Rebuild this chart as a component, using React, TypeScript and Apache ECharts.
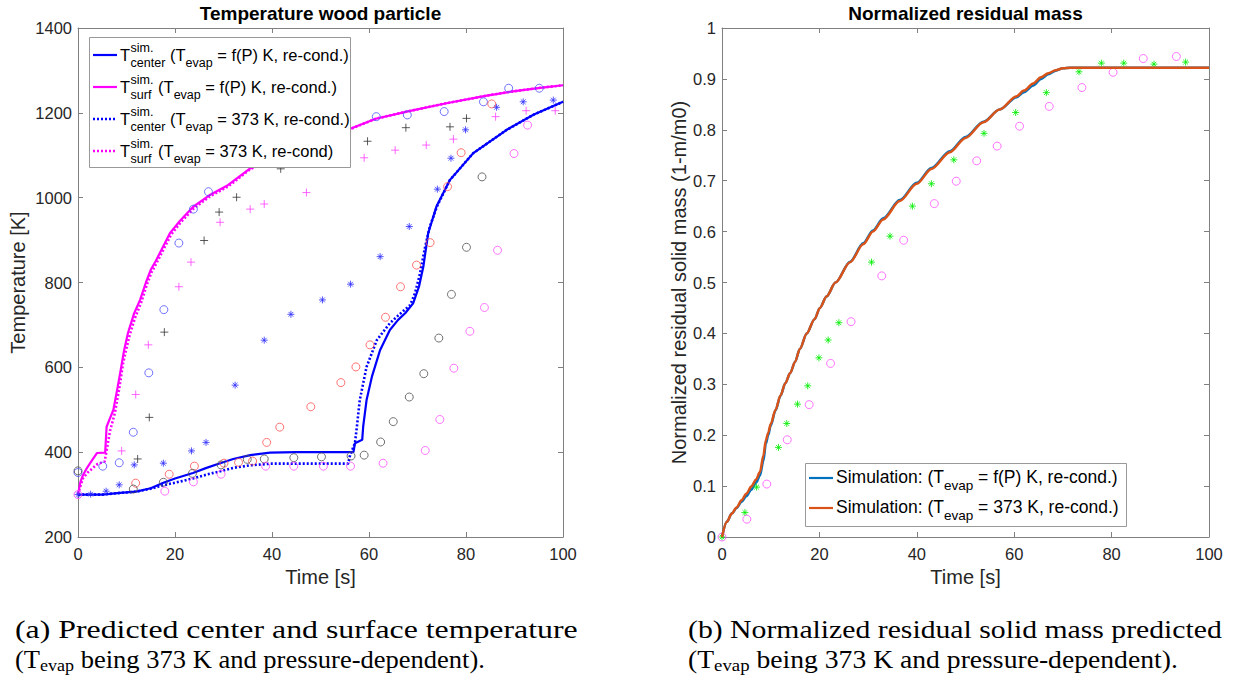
import React, { useEffect, useRef } from "react";
import * as echarts from "echarts";

// ---------- data ----------
const timeTicks = [0, 20, 40, 60, 80, 100];

// Left: simulated temperatures [t (s), T (K)]
const surfFP: number[][] = [
  [0, 300], [0.5, 330], [1, 345], [1.8, 362], [2.5, 374], [3.2, 386], [3.9, 398], [5.6, 399],
  [5.9, 460], [7.3, 500], [8.2, 555], [8.7, 587], [9.5, 640], [10.3, 681], [11.5, 725], [12.8, 759],
  [14, 800], [15, 830], [16, 850], [16.9, 870], [19, 917], [21, 945], [23.7, 978], [27, 1005],
  [30.7, 1028], [35.5, 1069], [40, 1092], [45, 1115], [50, 1137], [56, 1162], [61.4, 1186],
  [67.8, 1203], [75.7, 1222], [84, 1240], [89.3, 1250], [95.3, 1259], [100, 1265],
];
const surfFix: number[][] = [
  [0, 300], [0.5, 320], [1, 338], [2, 352], [3, 362], [4, 372], [5.5, 378], [6, 410],
  [6.6, 450], [7.6, 492], [8.5, 550], [9.3, 610], [10.5, 670], [11.7, 715], [13, 752],
  [14.2, 795], [15.2, 825], [16.2, 846], [17.1, 866], [19.2, 913], [21.2, 942], [23.9, 975],
  [27.2, 1003], [30.9, 1026], [35.5, 1067], [40, 1091], [45, 1114], [50, 1136], [56, 1161],
  [61.4, 1186], [67.8, 1203], [75.7, 1222], [84, 1240], [89.3, 1250], [95.3, 1259], [100, 1265],
];
const centerFP: number[][] = [
  [0, 300], [5, 300], [8.7, 304], [12, 307], [15, 315], [17.6, 328], [20, 338], [23.7, 351],
  [26.5, 363], [29.3, 374], [32, 384], [35.5, 393], [39.6, 399], [45, 400], [56.8, 400],
  [57.1, 421], [58.6, 429], [58.8, 460], [59.5, 523], [60.6, 578], [62.3, 641], [64.3, 688],
  [66, 712], [67.5, 728], [69.1, 751], [70.3, 790], [71.2, 837], [72.2, 916], [73.9, 979],
  [76.7, 1042], [81.5, 1105], [88.4, 1160], [94, 1196], [100, 1226],
];
const centerFix: number[][] = [
  [0, 300], [5, 300], [8.7, 304], [12, 307], [15, 314], [17.6, 322], [20, 328], [23.7, 338],
  [26.5, 347], [29.3, 355], [32, 363], [35.5, 369], [40, 373], [55.7, 373], [56.1, 393],
  [57.1, 421], [57.5, 460], [58.1, 523], [59.5, 601], [61.6, 664], [64.3, 704], [66, 722],
  [68.5, 747], [69.5, 775], [70.5, 820], [71.5, 880], [72.5, 930], [74, 979], [76.7, 1042],
  [81.5, 1105], [88.4, 1160], [94, 1196], [100, 1226],
];

// Left: experimental markers
const blueCircle: number[][] = [
  [0, 352], [5.1, 367], [8.5, 375], [11.4, 447], [14.6, 587], [17.7, 736], [20.8, 893],
  [23.8, 973], [26.9, 1014], [61.5, 1191], [67.9, 1195], [75.5, 1203], [83.6, 1226],
  [88.8, 1258], [95.1, 1258],
];
const blackPlus: number[][] = [
  [12.3, 384], [14.7, 482], [17.8, 683], [26, 899], [29.1, 966], [32.7, 1001], [41.8, 1068],
  [59.7, 1133], [67.6, 1165], [76.7, 1167], [80.1, 1187],
];
const magentaPlus: number[][] = [
  [9, 403], [11.9, 536], [14.5, 653], [20.8, 790], [23.3, 848], [29.3, 942], [35.5, 973],
  [38.4, 985], [47.1, 1012], [59, 1094], [65.4, 1112], [71.8, 1124], [77.4, 1138],
  [86.1, 1191], [92.4, 1205], [98.4, 1205],
];
const blueStar: number[][] = [
  [0, 300], [2.6, 301], [5.8, 308], [8.5, 323], [11.6, 370], [17.6, 374], [23.4, 403],
  [26.4, 423], [32.4, 558], [38.4, 664], [43.9, 725], [50.4, 759], [56.2, 796], [62.3, 861],
  [68.3, 932], [74.1, 1020], [76.9, 1093], [79.9, 1160], [86.3, 1213], [91.8, 1226], [98, 1230],
];
const redCircle: number[][] = [
  [11.9, 327], [18.8, 348], [24, 367], [30.1, 374], [33.1, 376], [36, 379], [38.9, 423],
  [41.6, 459], [48, 507], [54.2, 564], [57.3, 601], [60.2, 653], [63.4, 718], [66.5, 790],
  [69.8, 841], [72.6, 894], [76.2, 1026], [79, 1106], [85.3, 1221],
];
const blackCircle: number[][] = [
  [0, 356], [11.4, 313], [17.6, 329], [23.6, 350], [29.5, 370], [34.9, 383], [38.4, 384],
  [44.5, 387], [50.2, 389], [56.3, 391], [59, 393], [62.4, 424], [65, 472], [68.3, 530],
  [71.3, 585], [74.4, 669], [77, 772], [80.1, 883], [83.3, 1049],
];
const magentaCircle: number[][] = [
  [0, 300], [17.9, 308], [23.8, 330], [29.5, 348], [38.7, 367], [44.5, 367], [50.6, 367],
  [56.2, 367], [62.9, 374], [71.6, 404], [74.6, 477], [77.5, 598], [80.8, 685], [83.8, 741],
  [86.5, 876], [89.9, 1104], [92.7, 1171],
];

// Right: normalized residual mass
const massFix: number[][] = [
  [0, 0], [1, 0.03], [2, 0.046], [3, 0.058], [4, 0.072], [5, 0.085], [6, 0.099], [7, 0.113],
  [7.8, 0.128], [8.5, 0.16], [9, 0.19], [9.5, 0.205], [10, 0.222], [11, 0.25], [12, 0.278],
  [13, 0.302], [14, 0.322], [15, 0.344], [16, 0.37], [17.4, 0.4], [19, 0.428], [20.1, 0.45],
  [21.5, 0.473], [23.3, 0.5], [26.3, 0.54], [29, 0.575], [31, 0.6], [33.1, 0.624],
  [36.5, 0.66], [40, 0.694], [43, 0.723], [46.8, 0.756], [50, 0.784], [53.7, 0.815],
  [57, 0.84], [60.5, 0.866], [62, 0.877], [63.9, 0.891], [65.5, 0.903], [67, 0.911],
  [68.5, 0.917], [70, 0.921], [71.5, 0.922], [100, 0.922],
];
const massFP: number[][] = [
  [0, 0], [1, 0.03], [2, 0.046], [3, 0.057], [4, 0.069], [5, 0.08], [6, 0.093], [7, 0.107],
  [7.8, 0.121], [8.5, 0.15], [9, 0.183], [9.5, 0.2], [10, 0.219], [11, 0.249], [12, 0.277],
  [13, 0.302], [14, 0.322], [15, 0.344], [16, 0.37], [17.4, 0.4], [19, 0.428], [20.1, 0.45],
  [21.5, 0.473], [23.3, 0.5], [26.3, 0.541], [29, 0.577], [31, 0.602], [33.1, 0.626],
  [36.5, 0.662], [40, 0.696], [43, 0.725], [46.8, 0.758], [50, 0.786], [53.7, 0.816],
  [57, 0.84], [60.5, 0.864], [62, 0.874], [63.9, 0.887], [65.5, 0.9], [67, 0.909],
  [68.5, 0.916], [70, 0.921], [71.5, 0.922], [100, 0.922],
];
const massGreenStar: number[][] = [
  [0, 0], [4.7, 0.048], [7.1, 0.098], [11.6, 0.176], [13.3, 0.223], [15.5, 0.261], [17.6, 0.297],
  [19.9, 0.352], [21.8, 0.387], [24, 0.421], [30.7, 0.54], [34.5, 0.591], [39.1, 0.65],
  [43, 0.694], [47.6, 0.741], [53.8, 0.793], [60.3, 0.834], [66.6, 0.873], [73.3, 0.914],
  [77.9, 0.931], [82.5, 0.931], [88.7, 0.929], [95.2, 0.933],
];
const massMagentaCircle: number[][] = [
  [0, 0], [5.1, 0.035], [9.2, 0.104], [13.4, 0.191], [17.9, 0.26], [22.3, 0.341], [26.5, 0.423],
  [32.8, 0.513], [37.3, 0.583], [43.6, 0.655], [48.1, 0.699], [52.3, 0.739], [56.5, 0.768],
  [61.1, 0.807], [67.2, 0.846], [73.9, 0.883], [80.3, 0.913], [86.5, 0.94], [93.3, 0.944],
];

const leftTitle = "Temperature wood particle";
const rightTitle = "Normalized residual mass";
const leftYName = "Temperature [K]";
const rightYName = "Normalized residual solid mass (1-m/m0)";
const xName = "Time [s]";
const captionA = "(a) Predicted center and surface temperature";
const captionB = "(b) Normalized residual solid mass predicted";
const captionTail = " being 373 K and pressure-dependent).";

// ---------- styling ----------
const SANS = "Liberation Sans, Arial, sans-serif";
const SERIF = "Liberation Serif, Times New Roman, serif";
const AX = "#808080";
const TXT = "#262626";
const PLUS = "path://M0,5L10,5M5,0L5,10";
const STAR = "path://M0,5L10,5M5,0L5,10M1.6,1.6L8.4,8.4M1.6,8.4L8.4,1.6";

let measureCtx: CanvasRenderingContext2D | null = null;
function tw(t: string, size: number, fam: string, weight = "normal") {
  if (!measureCtx) measureCtx = document.createElement("canvas").getContext("2d");
  measureCtx!.font = `${weight} ${size}px ${fam}`;
  return measureCtx!.measureText(t).width;
}

function txt(t: string, x: number, y: number, size: number, fam: string, fill = "#000") {
  return {
    type: "text", x, y, z: 100, silent: true,
    style: { text: t, fontSize: size, fontFamily: fam, fill, align: "left", verticalAlign: "middle" },
  };
}

function legendEntryT(x: number, y: number, sub: string, rest: string) {
  const LF = 16.5, LS = 12.5;
  const out: any[] = [];
  out.push(txt("T", x, y, LF, SANS));
  const xs = x + tw("T", LF, SANS) + 0.5;
  out.push(txt("sim.", xs, y - 7.5, LS, SANS));
  out.push(txt(sub, xs, y + 7.5, LS, SANS));
  let x2 = xs + Math.max(tw("sim.", LS, SANS), tw(sub, LS, SANS));
  out.push(txt(" (T", x2, y, LF, SANS));
  x2 += tw(" (T", LF, SANS);
  out.push(txt("evap", x2, y + 7.5, LS, SANS));
  x2 += tw("evap", LS, SANS);
  out.push(txt(rest, x2, y, LF, SANS));
  return out;
}

function legendEntrySim(x: number, y: number, rest: string) {
  const LF = 17.5, LS = 13.5;
  const out: any[] = [];
  out.push(txt("Simulation: (T", x, y, LF, SANS));
  let x2 = x + tw("Simulation: (T", LF, SANS);
  out.push(txt("evap", x2, y + 8.5, LS, SANS));
  x2 += tw("evap", LS, SANS);
  out.push(txt(rest, x2, y, LF, SANS));
  return out;
}

function sampleLine(x1: number, x2: number, y: number, color: string, dotted: boolean) {
  return {
    type: "line", z: 100, silent: true,
    shape: { x1, y1: y, x2, y2: y },
    style: { stroke: color, lineWidth: dotted ? 2.5 : 2.2, lineDash: dotted ? [2, 2] : null },
  };
}

function captionLine(x: number, y: number, targetW: number, parts: { t: string; sub?: boolean }[]) {
  const F = 25, S = 17;
  const children: any[] = [];
  let cx = 0;
  for (const p of parts) {
    const size = p.sub ? S : F;
    children.push(txt(p.t, cx, p.sub ? 5 : 0, size, SERIF));
    cx += tw(p.t, size, SERIF);
  }
  return { type: "group", x, y, scaleX: targetW / cx, z: 100, children };
}

function axisBase(min: number, max: number, interval: number) {
  return {
    type: "value", min, max, interval,
    axisLine: { show: true, onZero: false, lineStyle: { color: AX, width: 1 } },
    axisTick: { show: true, inside: true, length: 5, lineStyle: { color: AX } },
    splitLine: { show: false },
  };
}

const labelStyle = { fontSize: 16.5, color: TXT, fontFamily: SANS };
const nameStyle = { fontSize: 20, color: TXT, fontFamily: SANS };

function lineSeries(data: number[][], color: string, dotted: boolean, xi: number, yi: number, width = 2.2, z = 2, smooth = false) {
  return {
    type: "line", data, xAxisIndex: xi, yAxisIndex: yi, showSymbol: false, symbol: "none",
    smooth: smooth ? 0.3 : false, smoothMonotone: "x", z, silent: true,
    lineStyle: { color, width: dotted ? 2.6 : width, type: dotted ? [2, 2] : "solid" },
  };
}

function scatterSeries(data: number[][], symbol: string, color: string, size: number, xi: number, yi: number) {
  return {
    type: "scatter", data, xAxisIndex: xi, yAxisIndex: yi, symbol, symbolSize: size, z: 3, silent: true,
    itemStyle: { color: "transparent", borderColor: color, borderWidth: 1 },
  };
}

export default function App() {
  const ref = useRef<HTMLDivElement>(null);
  useEffect(() => {
    document.body.style.margin = "0";
    const chart = echarts.init(ref.current!, null, { renderer: "svg" });

    const graphics: any[] = [];
    // Left legend
    graphics.push({
      type: "rect", z: 99, silent: true,
      shape: { x: 89.5, y: 37.5, width: 261, height: 130 },
      style: { fill: "#fff", stroke: "#999", lineWidth: 1 },
    });
    const ly = [55, 87, 119, 151];
    graphics.push(sampleLine(93, 117, ly[0], "#0000ff", false));
    graphics.push(sampleLine(93, 117, ly[1], "#ff00ff", false));
    graphics.push(sampleLine(93, 117, ly[2], "#0000ff", true));
    graphics.push(sampleLine(93, 117, ly[3], "#ff00ff", true));
    graphics.push(...legendEntryT(120, ly[0], "center", " = f(P) K, re-cond.)"));
    graphics.push(...legendEntryT(120, ly[1], "surf", " = f(P) K, re-cond.)"));
    graphics.push(...legendEntryT(120, ly[2], "center", " = 373 K, re-cond.)"));
    graphics.push(...legendEntryT(120, ly[3], "surf", " = 373 K, re-cond)"));

    // Right legend
    graphics.push({
      type: "rect", z: 99, silent: true,
      shape: { x: 805.5, y: 463.5, width: 321, height: 63 },
      style: { fill: "#fff", stroke: "#999", lineWidth: 1 },
    });
    graphics.push(sampleLine(809, 833, 478, "#0072BD", false));
    graphics.push(sampleLine(809, 833, 508, "#D95319", false));
    graphics.push(...legendEntrySim(836, 477, " = f(P) K, re-cond.)"));
    graphics.push(...legendEntrySim(836, 507, " = 373 K, re-cond.)"));

    // Captions
    graphics.push(captionLine(15, 630, 563, [{ t: captionA }]));
    graphics.push(captionLine(15, 660, 470, [{ t: "(T" }, { t: "evap", sub: true }, { t: captionTail }]));
    graphics.push(captionLine(688, 630, 534, [{ t: captionB }]));
    graphics.push(captionLine(688, 660, 490, [{ t: "(T" }, { t: "evap", sub: true }, { t: captionTail }]));

    const option: any = {
      animation: false,
      backgroundColor: "#fff",
      title: [
        { text: leftTitle, left: 320.5, top: 3.5, textAlign: "center", padding: 0,
          textStyle: { fontSize: 19, fontWeight: "bold", color: "#000", fontFamily: SANS } },
        { text: rightTitle, left: 965.5, top: 3.5, textAlign: "center", padding: 0,
          textStyle: { fontSize: 19, fontWeight: "bold", color: "#000", fontFamily: SANS } },
      ],
      grid: [
        { left: 78, top: 28, width: 485, height: 509 },
        { left: 722, top: 28, width: 487, height: 509 },
      ],
      xAxis: [
        { ...axisBase(0, 100, 20), gridIndex: 0, position: "bottom",
          axisLabel: { ...labelStyle, margin: 8 }, name: xName, nameLocation: "middle", nameGap: 30,
          nameTextStyle: nameStyle },
        { ...axisBase(0, 100, 20), gridIndex: 0, position: "top", axisLabel: { show: false } },
        { ...axisBase(0, 100, 20), gridIndex: 1, position: "bottom",
          axisLabel: { ...labelStyle, margin: 8 }, name: xName, nameLocation: "middle", nameGap: 30,
          nameTextStyle: nameStyle },
        { ...axisBase(0, 100, 20), gridIndex: 1, position: "top", axisLabel: { show: false } },
      ],
      yAxis: [
        { ...axisBase(200, 1400, 200), gridIndex: 0, position: "left",
          axisLabel: { ...labelStyle, margin: 6, formatter: (v: number) => String(v) },
          name: leftYName, nameLocation: "middle", nameGap: 50, nameTextStyle: nameStyle },
        { ...axisBase(200, 1400, 200), gridIndex: 0, position: "right", axisLabel: { show: false } },
        { ...axisBase(0, 1, 0.1), gridIndex: 1, position: "left",
          axisLabel: { ...labelStyle, margin: 6, formatter: (v: number) => String(+v.toFixed(1)) },
          name: rightYName, nameLocation: "middle", nameGap: 32, nameTextStyle: nameStyle },
        { ...axisBase(0, 1, 0.1), gridIndex: 1, position: "right", axisLabel: { show: false } },
      ],
      series: [
        lineSeries(centerFix, "#0000ff", true, 0, 0),
        lineSeries(surfFix, "#ff00ff", true, 0, 0),
        lineSeries(centerFP, "#0000ff", false, 0, 0),
        lineSeries(surfFP, "#ff00ff", false, 0, 0),
        scatterSeries(blueCircle, "circle", "#5050ff", 8, 0, 0),
        scatterSeries(blackPlus, PLUS, "#333333", 8, 0, 0),
        scatterSeries(magentaPlus, PLUS, "#ff40ff", 8, 0, 0),
        scatterSeries(blueStar, STAR, "#3030ff", 7, 0, 0),
        scatterSeries(redCircle, "circle", "#ff5050", 8, 0, 0),
        scatterSeries(blackCircle, "circle", "#505050", 8, 0, 0),
        scatterSeries(magentaCircle, "circle", "#ff50ff", 8, 0, 0),
        lineSeries(massFP, "#0072BD", false, 2, 2, 2.5, 2, true),
        lineSeries(massFix, "#D95319", false, 2, 2, 2.5, 4, true),
        scatterSeries(massGreenStar, STAR, "#00ee00", 7, 2, 2),
        scatterSeries(massMagentaCircle, "circle", "#ff50ff", 8, 2, 2),
      ],
      graphic: graphics,
    };
    chart.setOption(option);
    return () => chart.dispose();
  }, []);
  return <div ref={ref} style={{ width: 1236, height: 681 }} />;
}
